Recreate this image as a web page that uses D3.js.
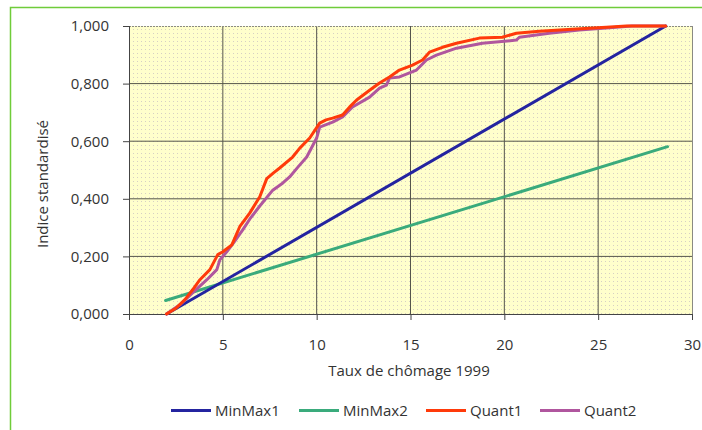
<!DOCTYPE html>
<html><head><meta charset="utf-8">
<script src="https://cdn.jsdelivr.net/npm/d3@7"></script>
<style>body{margin:0;background:#fff}svg{display:block}</style>
</head><body>
<svg id="c" width="702" height="430"></svg>
<script>
const xTicks = [0, 5, 10, 15, 20, 25, 30];
const yTicks = [0, 0.2, 0.4, 0.6, 0.8, 1.0];
const seriesNames = ["MinMax1", "MinMax2", "Quant1", "Quant2"];
const seriesColors = ["#2424a0", "#3aab7c", "#ff3a0a", "#b0569e"];

const minMax1 = [[2.0, 0.0], [28.6, 1.0]];
const minMax2 = [[1.95, 0.047], [28.7, 0.581]];
const quant1 = [[2.0,0.0],[2.5,0.02],[2.98,0.05],[3.4,0.085],[3.78,0.119],[4.31,0.154],[4.73,0.206],[5.0,0.216],[5.48,0.24],[5.9,0.303],[6.44,0.351],[6.97,0.407],[7.34,0.47],[7.7,0.49],[8.03,0.507],[8.72,0.545],[9.1,0.576],[9.63,0.611],[10.16,0.663],[10.5,0.674],[10.85,0.68],[11.38,0.691],[11.76,0.719],[12.13,0.743],[12.82,0.777],[13.35,0.802],[13.88,0.823],[14.41,0.847],[15.11,0.864],[15.64,0.882],[16.01,0.909],[16.7,0.926],[17.45,0.94],[18.67,0.958],[19.89,0.961],[20.64,0.975],[21.86,0.982],[23.62,0.989],[25.43,0.996],[26.5,1.0],[28.6,1.0]];
const quant2 = [[2.0,0.0],[2.71,0.032],[3.4,0.074],[4.15,0.119],[4.68,0.154],[4.84,0.188],[5.21,0.216],[5.6,0.25],[6.06,0.292],[6.44,0.33],[6.97,0.375],[7.66,0.43],[8.2,0.455],[8.56,0.476],[9.0,0.51],[9.47,0.545],[10.0,0.611],[10.16,0.649],[10.85,0.666],[11.38,0.684],[11.91,0.719],[12.82,0.753],[13.35,0.784],[13.72,0.795],[13.88,0.819],[14.41,0.823],[15.32,0.847],[15.85,0.882],[16.38,0.899],[17.45,0.923],[18.83,0.94],[20.64,0.951],[20.8,0.961],[22.39,0.975],[23.99,0.986],[25.43,0.993],[26.8,1.0],[28.6,1.0]];
const seriesData = [minMax1, minMax2, quant1, quant2];

const svg = d3.select("#c");
const font = "'Open Sans', sans-serif";
const fs = 15;
const x = d3.scaleLinear().domain([0, 30]).range([129, 692]);
const y = d3.scaleLinear().domain([0, 1]).range([314, 26]);

// outer green frame
svg.append("rect").attr("x", 10.5).attr("y", 7.5).attr("width", 760).attr("height", 500)
  .attr("fill", "none").attr("stroke", "#6fcc3a").attr("stroke-width", 1.5);

// dotted pattern background
const defs = svg.append("defs");
const pat = defs.append("pattern").attr("id", "dots").attr("patternUnits", "userSpaceOnUse")
  .attr("width", 4).attr("height", 4);
pat.append("rect").attr("width", 4).attr("height", 4).attr("fill", "#ffffcc");
pat.append("rect").attr("x", 1).attr("y", 1).attr("width", 1).attr("height", 1).attr("fill", "#d6d0c4");

svg.append("rect").attr("x", x(0)).attr("y", y(1)).attr("width", x(30) - x(0)).attr("height", y(0) - y(1))
  .attr("fill", "url(#dots)");

// gridlines
const g = svg.append("g");
g.selectAll(".vg").data(xTicks.filter(d => d > 0 && d < 30)).join("line")
  .attr("x1", d => x(d)).attr("x2", d => x(d)).attr("y1", y(1)).attr("y2", y(0))
  .attr("stroke", "#55554c").attr("stroke-width", 1);
g.selectAll(".hg").data(yTicks.filter(d => d > 0 && d < 1)).join("line")
  .attr("x1", x(0)).attr("x2", x(30)).attr("y1", d => y(d)).attr("y2", d => y(d))
  .attr("stroke", "#55554c").attr("stroke-width", 1);
// plot border top/right
g.append("line").attr("x1", x(0)).attr("x2", x(30)).attr("y1", y(1) + 0.5).attr("y2", y(1) + 0.5)
  .attr("stroke", "#8a8a84").attr("stroke-width", 1).attr("stroke-dasharray", "2,1");
g.append("line").attr("x1", x(30) + 0.5).attr("x2", x(30) + 0.5).attr("y1", y(1)).attr("y2", y(0))
  .attr("stroke", "#8a8a84").attr("stroke-width", 1);

// axes
const yAxis = d3.axisLeft(y).tickValues(yTicks).tickSize(6).tickPadding(14)
  .tickFormat(d => d3.format(".3f")(d).replace(".", ","));
const xAxis = d3.axisBottom(x).tickValues(xTicks).tickSize(6).tickPadding(19).tickFormat(d3.format("d"));
const ya = svg.append("g").attr("transform", `translate(${x(0)},0)`).call(yAxis);
const xa = svg.append("g").attr("transform", `translate(0,${y(0)})`).call(xAxis);
[ya, xa].forEach(a => {
  a.select(".domain").attr("stroke", "#444");
  a.selectAll(".tick line").attr("stroke", "#444");
  a.selectAll("text").attr("font-family", font).attr("font-size", fs).attr("fill", "#333");
});
xa.select(".domain").attr("d", `M${x(0)},0.5H${x(30)}`);
ya.select(".domain").attr("d", `M0.5,${y(1)}V${y(0)}`);

// series lines
const line = d3.line().x(d => x(d[0])).y(d => y(d[1]));
const order = [1, 0, 3, 2];
order.forEach(i => {
  svg.append("path").datum(seriesData[i]).attr("d", line)
    .attr("fill", "none").attr("stroke", seriesColors[i]).attr("stroke-width", 3)
    .attr("stroke-linejoin", "round").attr("stroke-linecap", "round");
});

// axis titles
svg.append("text").attr("x", 409).attr("y", 376).attr("text-anchor", "middle")
  .attr("font-family", font).attr("font-size", fs).attr("fill", "#333").text("Taux de chômage 1999");
svg.append("text").attr("transform", "translate(48,184) rotate(-90)").attr("text-anchor", "middle")
  .attr("font-family", font).attr("font-size", fs).attr("fill", "#333").text("Indice standardisé");

// legend
const legX = [171, 299, 426, 540];
const leg = svg.append("g");
seriesNames.forEach((n, i) => {
  leg.append("line").attr("x1", legX[i]).attr("x2", legX[i] + 40).attr("y1", 410.5).attr("y2", 410.5)
    .attr("stroke", seriesColors[i]).attr("stroke-width", 3);
  leg.append("text").attr("x", legX[i] + 44).attr("y", 416).attr("font-family", font)
    .attr("font-size", fs).attr("fill", "#333").text(n);
});
</script>
</body></html>
